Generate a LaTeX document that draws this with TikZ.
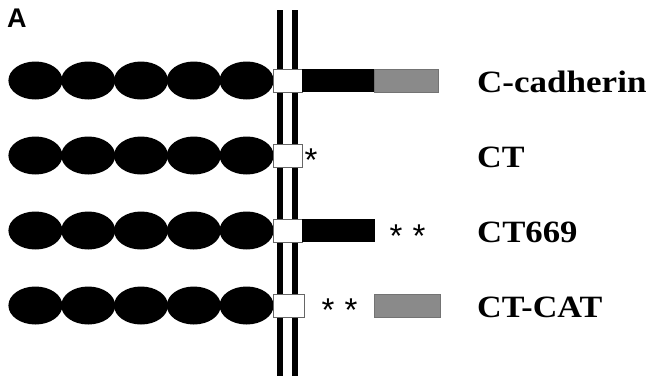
\documentclass[tikz,border=0pt]{standalone}
\usepackage{fontspec}
\setmainfont{Liberation Serif}
\newfontfamily\labelsans{Liberation Sans}
\usetikzlibrary{shapes.geometric}
\definecolor{catgray}{RGB}{138,138,138}
\begin{document}
\begin{tikzpicture}[x=1pt,y=-1pt,
  ecdomain/.style={ellipse,fill=black,draw=none,minimum width=54pt,minimum height=38pt,inner sep=0pt},
  tmbox/.style={rectangle,fill=white,draw=black!60,line width=0.8pt,minimum width=29pt,minimum height=23pt,inner sep=0pt},
  blackbar/.style={rectangle,fill=black,draw=none,minimum height=23pt,inner sep=0pt},
  graybar/.style={rectangle,fill=catgray,draw=black!55,line width=0.8pt,minimum height=23pt,inner sep=0pt},
  namelabel/.style={font=\fontsize{31}{31}\selectfont\bfseries,anchor=base west,inner sep=0pt},
  ast/.style={font=\labelsans\fontsize{33}{33}\selectfont,inner sep=0pt,anchor=base},
  membrane/.style={line width=6pt}]
\useasboundingbox (0,0) rectangle (647,378);
% panel letter
\node[font=\labelsans\bfseries\fontsize{27}{27}\selectfont,anchor=base west,inner sep=0pt] (panelA) at (7,27) {A};
% membrane
\coordinate (m1top) at (280,10); \coordinate (m1bot) at (280,376);
\coordinate (m2top) at (295,10); \coordinate (m2bot) at (295,376);
\draw[membrane] (m1top) -- (m1bot);
\draw[membrane] (m2top) -- (m2bot);
% extracellular domains
\foreach \r/\yy in {1/80.5,2/155.5,3/230.5,4/305.5}{
  \foreach \i in {0,...,4}{
    \node[ecdomain] (e\r\i) at ({35.4+52.8*\i},\yy) {};
  }
}
% transmembrane boxes
\node[tmbox] (tm1) at (287.5,80.5) {};
\node[tmbox] (tm2) at (287.5,155.5) {};
\node[tmbox] (tm3) at (287.5,230.5) {};
\node[tmbox,minimum width=31pt] (tm4) at (288.5,305.5) {};
% cytoplasmic parts
\node[blackbar,minimum width=72pt] (cyt1) at (338,80.5) {};
\node[graybar,minimum width=64pt] (cat1) at (406,80.5) {};
\node[blackbar,minimum width=73pt] (cyt3) at (338.5,230.5) {};
\node[graybar,minimum width=66pt] (cat4) at (407,305.5) {};
% asterisks
\node[ast] (s2) at (311,171) {*};
\node[ast] (s3a) at (396,247) {*};
\node[ast] (s3b) at (419,247) {*};
\node[ast] (s4a) at (328,321) {*};
\node[ast] (s4b) at (351,321) {*};
% labels
\node[namelabel] (l1) at (477,92) {\scalebox{1.13}[1]{C-cadherin}};
\node[namelabel] (l2) at (477,167) {\scalebox{1.1}[1]{CT}};
\node[namelabel] (l3) at (477,242) {\scalebox{1.12}[1]{CT669}};
\node[namelabel] (l4) at (477,317) {\scalebox{1.1}[1]{CT-CAT}};
\end{tikzpicture}
\end{document}
